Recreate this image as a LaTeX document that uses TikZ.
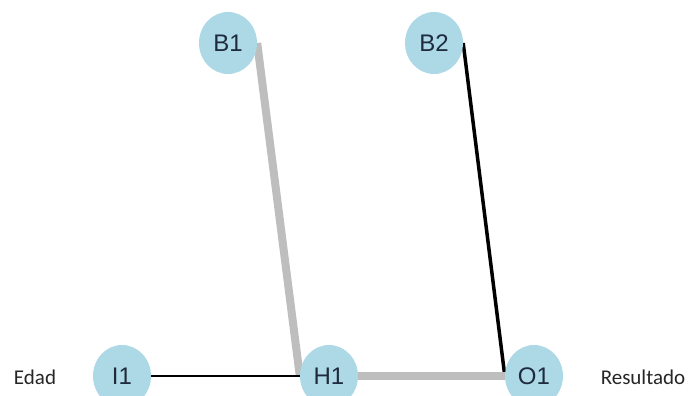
\documentclass[tikz,border=0pt]{standalone}
\usepackage{fontspec}
\setmainfont{Liberation Sans}
\newfontfamily\labfont{Carlito}
\usetikzlibrary{shapes.geometric,backgrounds}
\definecolor{nodeblue}{HTML}{ADD8E6}
\definecolor{nodetext}{HTML}{1E2B3C}
\definecolor{wgray}{HTML}{BEBEBE}
\begin{document}
\begin{tikzpicture}[x=1pt,y=-1pt,
  nn/.style={ellipse,fill=nodeblue,draw=none,minimum width=58pt,minimum height=62pt,inner sep=0pt,
    font=\fontsize{24}{26}\selectfont,text=nodetext},
  lab/.style={font=\labfont\fontsize{21}{23}\selectfont,text=black!85},
  graythick/.style={draw=wgray,line width=8pt},
  blackmid/.style={draw=black,line width=3.5pt},
  blackthin/.style={draw=black,line width=1.4pt}]
\useasboundingbox (0,0) rectangle (689,396);
\clip (0,0) rectangle (689,396);
\node[nn] (B1) at (228,43) {B1};
\node[nn] (B2) at (434,43) {B2};
\node[nn] (I1) at (122,376) {I1};
\node[nn] (H1) at (329,376) {H1};
\node[nn] (O1) at (534,376) {O1};
\node[lab] (L1) at (35,377) {Edad};
\node[lab] (L2) at (643,377) {Resultado};
\begin{scope}[on background layer]
\draw[graythick] (B1.east) -- (H1.west);
\draw[blackmid] (B2.east) -- (O1.west);
\draw[blackthin] (I1.east) -- (H1.west);
\draw[graythick] (H1.east) -- (O1.west);
\end{scope}
\end{tikzpicture}
\end{document}
